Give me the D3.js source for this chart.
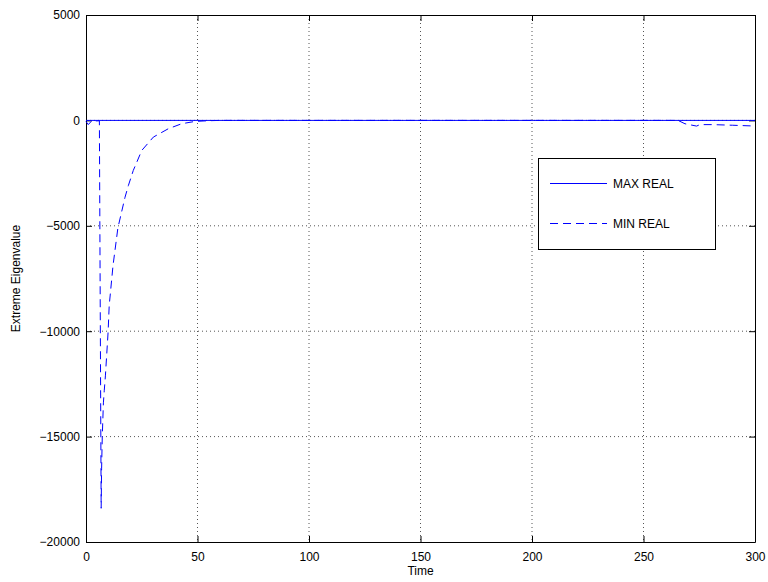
<!DOCTYPE html>
<html>
<head>
<meta charset="utf-8">
<script src="https://cdn.jsdelivr.net/npm/d3@7"></script>
<style>
body{margin:0;background:#fff;}
text{font-family:"Liberation Sans",Arial,sans-serif;}
</style>
</head>
<body>
<svg id="chart" width="768" height="582"></svg>
<script>
// data
var xTicks = [0, 50, 100, 150, 200, 250, 300];
var yTicks = [-20000, -15000, -10000, -5000, 0, 5000];

var maxTime = [0, 300];
var maxReal = [0, 0];

var minTime = [0, 1, 2.5, 6, 6.8, 7.0, 7.3, 7.8, 8.2, 8.7, 9.9, 10.4, 12.1, 14.3, 17.5, 19, 21.2, 25, 30.2, 36.9, 42.9, 48.9, 55, 60, 100, 150, 200, 250, 265.5, 268.6, 273.8, 275.3, 281, 290, 298, 300];
var minReal = [-50, -200, -30, -20, -18400, -16500, -15000, -13400, -12800, -12120, -10060, -8790, -6900, -5100, -3645, -3090, -2376, -1426, -792, -396, -158, -48, -15, 0, 0, 0, 0, 0, 0, -160, -270, -200, -200, -230, -260, -270];

var legendNames = ["MAX REAL", "MIN REAL"];

var svg = d3.select('#chart');
var m = {left:86, top:15, right:755, bottom:542};

var x = d3.scaleLinear().domain([0, 300]).range([m.left, m.right]);
var y = d3.scaleLinear().domain([-20000, 5000]).range([m.bottom, m.top]);

//grid
xTicks.slice(1, -1).forEach(function(t){
	svg.append('line')
		.attr('x1', x(t)).attr('x2', x(t))
		.attr('y1', m.top).attr('y2', m.bottom)
		.attr('stroke', '#555').attr('stroke-width', 1)
		.attr('stroke-dasharray', '1,3');
});
yTicks.slice(1, -1).forEach(function(t){
	svg.append('line')
		.attr('x1', m.left).attr('x2', m.right)
		.attr('y1', y(t)).attr('y2', y(t))
		.attr('stroke', '#555').attr('stroke-width', 1)
		.attr('stroke-dasharray', '1,3');
});

//axes (ticks inward, box)
var xAxis = svg.append('g').attr('transform', 'translate(0,' + m.bottom + ')')
	.call(d3.axisBottom(x).tickValues(xTicks).tickSizeInner(-6).tickSizeOuter(0).tickPadding(10));
var yAxis = svg.append('g').attr('transform', 'translate(' + m.left + ',0)')
	.call(d3.axisLeft(y).tickValues(yTicks).tickSizeInner(-6).tickSizeOuter(0).tickPadding(6)
		.tickFormat(function(d){ return d < 0 ? '\u2212' + Math.abs(d) : d; }));
svg.append('g').attr('transform', 'translate(0,' + m.top + ')')
	.call(d3.axisTop(x).tickValues(xTicks).tickSizeInner(-6).tickSizeOuter(0).tickFormat(''));
svg.append('g').attr('transform', 'translate(' + m.right + ',0)')
	.call(d3.axisRight(y).tickValues(yTicks).tickSizeInner(-6).tickSizeOuter(0).tickFormat(''));

svg.selectAll('.domain').attr('stroke', '#000').attr('stroke-width', 1);
svg.selectAll('.tick line').attr('stroke', '#000');
svg.selectAll('.tick text').attr('font-size', 12).attr('fill', '#000')
	.style('font-family', '"Liberation Sans",Arial,sans-serif');
xAxis.selectAll('.tick text').attr('dy', '0.71em');

//lines
var line = d3.line().x(function(d){ return x(d[0]); }).y(function(d){ return y(d[1]); });

svg.append('path')
	.attr('d', line(maxTime.map(function(t, i){ return [t, maxReal[i]]; })))
	.attr('stroke', '#0000ff').attr('stroke-width', 1).attr('fill', 'none');

svg.append('path')
	.attr('d', line(minTime.map(function(t, i){ return [t, minReal[i]]; })))
	.attr('stroke', '#0000ff').attr('stroke-width', 1).attr('fill', 'none')
	.attr('stroke-dasharray', '8,5');

//labels
svg.append('text').attr('x', (m.left + m.right) / 2).attr('y', 575)
	.attr('text-anchor', 'middle').attr('font-size', 12).text('Time');
svg.append('text').attr('transform', 'translate(20,' + ((m.top + m.bottom) / 2) + ') rotate(-90)')
	.attr('text-anchor', 'middle').attr('font-size', 12).text('Extreme Eigenvalue');

//legend
var lg = svg.append('g');
lg.append('rect').attr('x', 538.5).attr('y', 158.5).attr('width', 177).attr('height', 91)
	.attr('fill', '#fff').attr('stroke', '#000').attr('stroke-width', 1);
legendNames.forEach(function(n, i){
	var ly = 183.5 + i * 40;
	lg.append('line').attr('x1', 550).attr('x2', 607).attr('y1', ly).attr('y2', ly)
		.attr('stroke', '#0000ff').attr('stroke-width', 1)
		.attr('stroke-dasharray', i == 1 ? '8,5' : null);
	lg.append('text').attr('x', 613).attr('y', ly + 4.5).attr('font-size', 12).text(n);
});
</script>
</body>
</html>
